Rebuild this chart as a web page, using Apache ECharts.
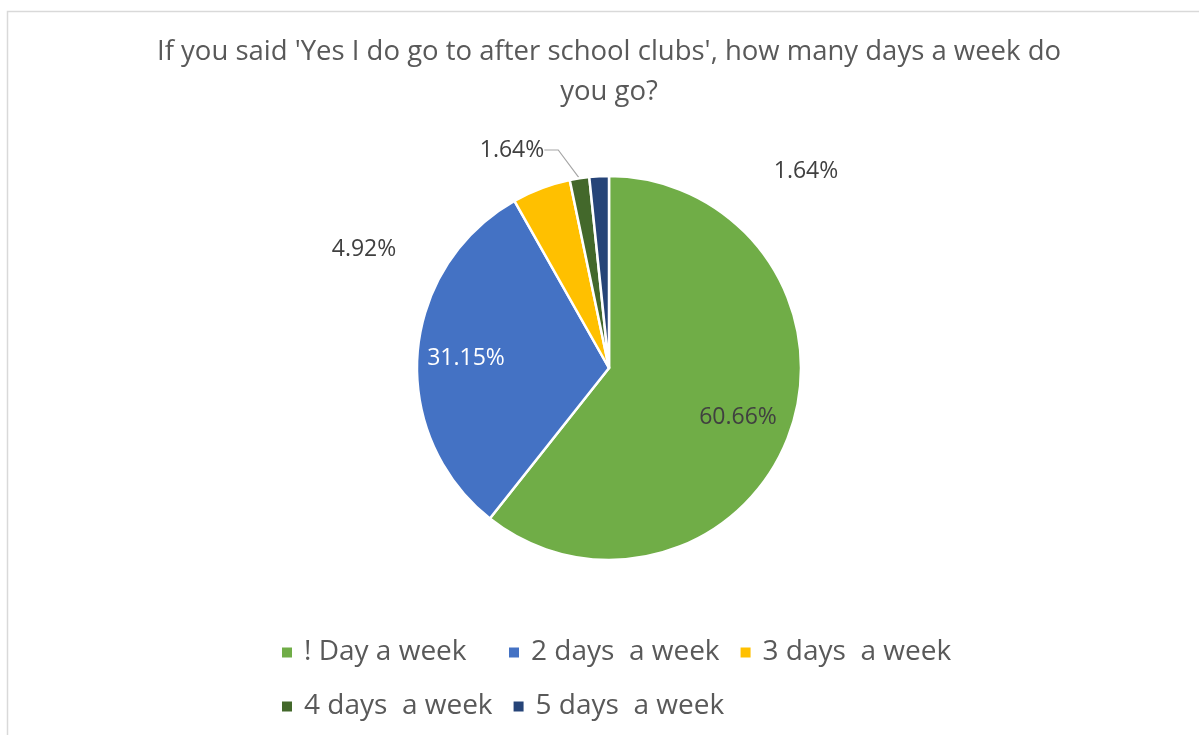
<!DOCTYPE html>
<html>
<head>
<meta charset="utf-8">
<title>After school clubs</title>
<script src="https://cdn.jsdelivr.net/npm/echarts@6/dist/echarts.min.js"></script>
<style>
  html, body { margin: 0; padding: 0; background: #fff; }
  #main { width: 1199px; height: 735px; }
</style>
</head>
<body>
<div id="main"></div>
<script>
// data (counts of replies, shown as percentages)
var categories = ['! Day a week', '2 days  a week', '3 days  a week', '4 days  a week', '5 days  a week'];
var counts = [37, 19, 3, 1, 1];
var colors = ['#70ad47', '#4472c4', '#ffc000', '#43682b', '#264478'];

// where Excel put each data label (centre of the text)
var labelSpots = [[738, 417], [466, 358], [364, 249], [512, 150], [806, 171]];

var total = counts.reduce(function (a, b) { return a + b; }, 0);

var myChart = echarts.init(document.getElementById('main'));

var pieData = categories.map(function (name, i) {
    var item = { name: name, value: counts[i], itemStyle: { color: colors[i] } };
    if (i === 0) item.label = { position: 'inside', color: '#404040' };
    if (i === 1) item.label = { position: 'inside', color: '#ffffff' };
    if (i === 3) item.labelLine = { show: true };
    return item;
});

myChart.setOption({
    textStyle: { fontFamily: 'Open Sans' },
    title: {
        text: "If you said 'Yes I do go to after school clubs', how many days a week do\nyou go?",
        left: 609,
        top: 32,
        padding: 0,
        textAlign: 'center',
        textStyle: { fontFamily: 'Open Sans', fontSize: 27.5, fontWeight: 'normal', color: '#595959', lineHeight: 40 }
    },
    graphic: [{
        type: 'rect',
        shape: { x: 7.5, y: 11.5, width: 1300, height: 800 },
        style: { fill: 'none', stroke: '#d9d9d9', lineWidth: 1.5 },
        silent: true
    }],
    legend: {
        left: 275,
        top: 630,
        width: 760,
        icon: 'rect',
        itemWidth: 12,
        itemHeight: 12,
        itemGap: 19,
        textStyle: { fontFamily: 'Open Sans', fontSize: 28, color: '#595959', width: 184, lineHeight: 35, padding: [0, 0, 0, 6] },
        data: categories
    },
    series: [{
        type: 'pie',
        center: [609, 368],
        radius: 192,
        startAngle: 90,
        clockwise: true,
        avoidLabelOverlap: false,
        itemStyle: { borderColor: '#ffffff', borderWidth: 2.5 },
        label: {
            show: true,
            position: 'outside',
            formatter: function (p) { return (p.value / total * 100).toFixed(2) + '%'; },
            fontFamily: 'Open Sans',
            fontSize: 23,
            color: '#404040'
        },
        labelLine: { show: false, length: 14, length2: 14, lineStyle: { color: '#a6a6a6', width: 1.2 } },
        labelLayout: function (params) {
            var p = labelSpots[params.dataIndex];
            return { x: p[0], y: p[1], align: 'center', verticalAlign: 'middle' };
        },
        emphasis: { disabled: true },
        data: pieData
    }]
});
</script>
</body>
</html>
